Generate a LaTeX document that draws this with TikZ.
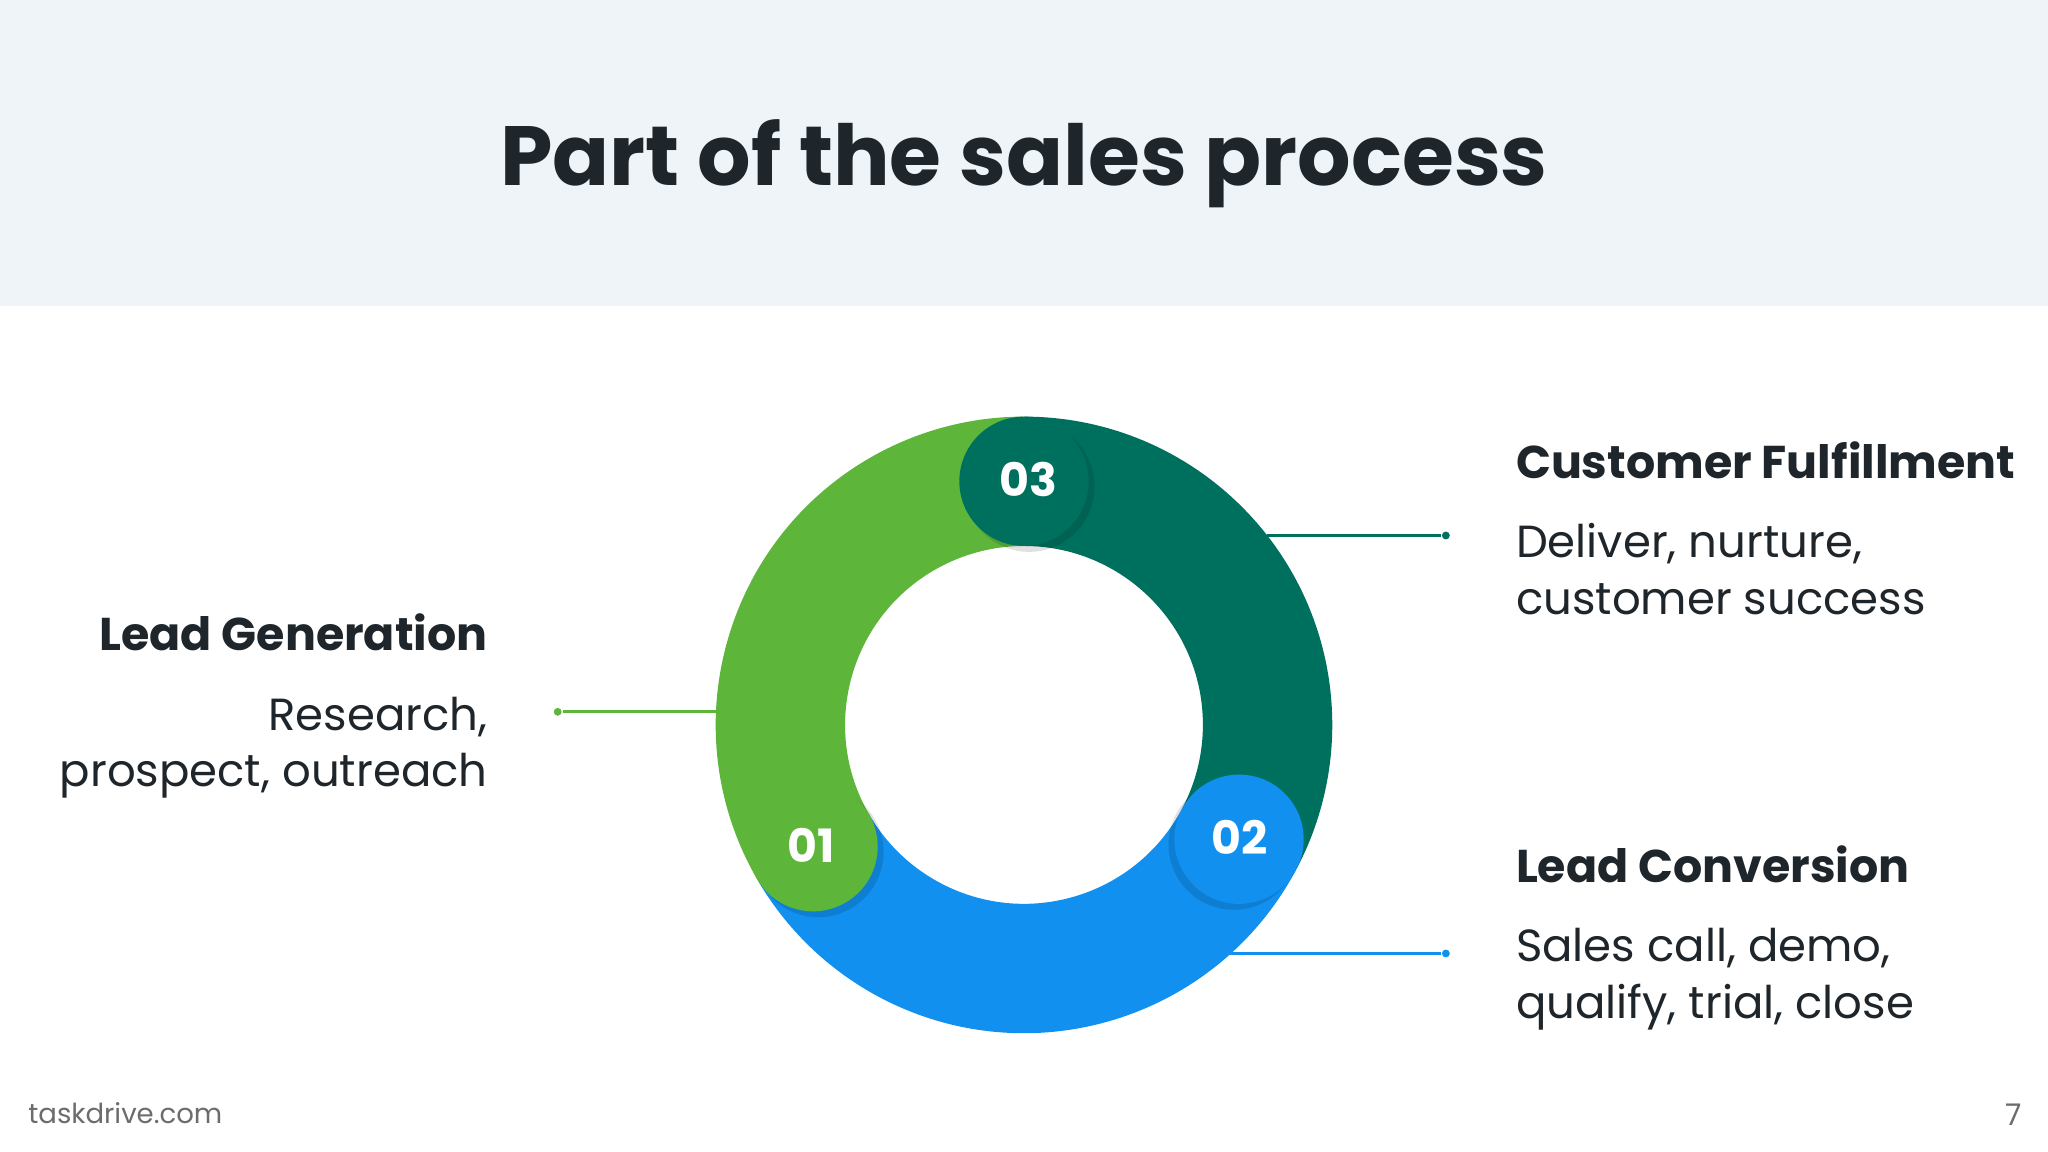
\documentclass[tikz,border=0pt]{standalone}
\usepackage{fontspec}
\setmainfont{Poppins}
\definecolor{cgreen}{HTML}{5DB53A}
\definecolor{cteal}{HTML}{00705E}
\definecolor{cblue}{HTML}{1190F0}
\definecolor{cband}{HTML}{EEF4F7}
\definecolor{ctext}{HTML}{1F262B}
\begin{document}
\begin{tikzpicture}[x=0.01cm,y=-0.01cm,
  head/.style={font=\bfseries\fontsize{10}{12}\selectfont,text=ctext,inner sep=0},
  body/.style={font=\fontsize{9.8}{12.3}\selectfont,text=ctext,inner sep=0,align=left},
  num/.style={font=\bfseries\fontsize{10}{12}\selectfont,text=white},
  dotc/.style={circle,inner sep=0,minimum size=0.06cm}]
\useasboundingbox (0,0) rectangle (1568,882);
\fill[white] (0,0) rectangle (1568,882);
\fill[cband] (0,0) rectangle (1568,234);
\node[font=\bfseries\fontsize{18.3}{22}\selectfont,text=ctext] (title) at (784,125) {Part of the sales process};
% ring
\def\mr{186.5}
\def\w{0.99cm}
\coordinate (c) at (784,555);
\draw[cteal,line width=\w] ([shift={(-90:\mr)}]c) arc[start angle=-90,end angle=28,radius=\mr];
\draw[cblue,line width=\w] ([shift={(28:\mr)}]c) arc[start angle=28,end angle=150,radius=\mr];
\draw[cgreen,line width=\w] ([shift={(150:\mr)}]c) arc[start angle=150,end angle=270,radius=\mr];
\fill[black,opacity=0.12] ([shift={(-90:\mr)}]c) ++(4,4) circle[radius=50];
\fill[cteal] ([shift={(-90:\mr)}]c) circle[radius=49.5];
\fill[black,opacity=0.12] ([shift={(28:\mr)}]c) ++(-4,4) circle[radius=50];
\fill[cblue] ([shift={(28:\mr)}]c) circle[radius=49.5];
\fill[black,opacity=0.12] ([shift={(150:\mr)}]c) ++(4,4) circle[radius=50];
\fill[cgreen] ([shift={(150:\mr)}]c) circle[radius=49.5];
\node[num] (n3) at (787,367) {03};
\node[num] (n2) at (949,641) {02};
\node[num] (n1) at (621,647) {01};
% connectors
\coordinate (g1) at (548,545);
\node[dotc,fill=cgreen] (gd) at (427,545) {};
\draw[cgreen,line width=0.6pt] (gd) -- (g1);
\coordinate (t1) at (970,410);
\node[dotc,fill=cteal] (td) at (1107,410) {};
\draw[cteal,line width=0.6pt] (t1) -- (td);
\coordinate (b1) at (940,730);
\node[dotc,fill=cblue] (bd) at (1107,730) {};
\draw[cblue,line width=0.6pt] (b1) -- (bd);
% texts
\node[head,anchor=base west] (h3) at (1160,366) {Customer Fulfillment};
\node[body,anchor=north west] (b3) at (1160,400) {Deliver, nurture,\\customer success};
\node[head,anchor=base west] (h2) at (1160,676) {Lead Conversion};
\node[body,anchor=north west] (b2) at (1160,710) {Sales call, demo,\\qualify, trial, close};
\node[head,anchor=base east] (h1) at (374,498) {Lead Generation};
\node[body,anchor=north east,align=right] (b1t) at (374,533) {Research,\\prospect, outreach};
\node[font=\fontsize{6}{8}\selectfont,text=gray!85!black,anchor=base west,inner sep=0] (foot) at (21,860) {taskdrive.com};
\node[font=\fontsize{6.5}{8}\selectfont,text=gray!85!black,anchor=base east,inner sep=0] (pg) at (1549,862) {7};
\end{tikzpicture}
\end{document}
